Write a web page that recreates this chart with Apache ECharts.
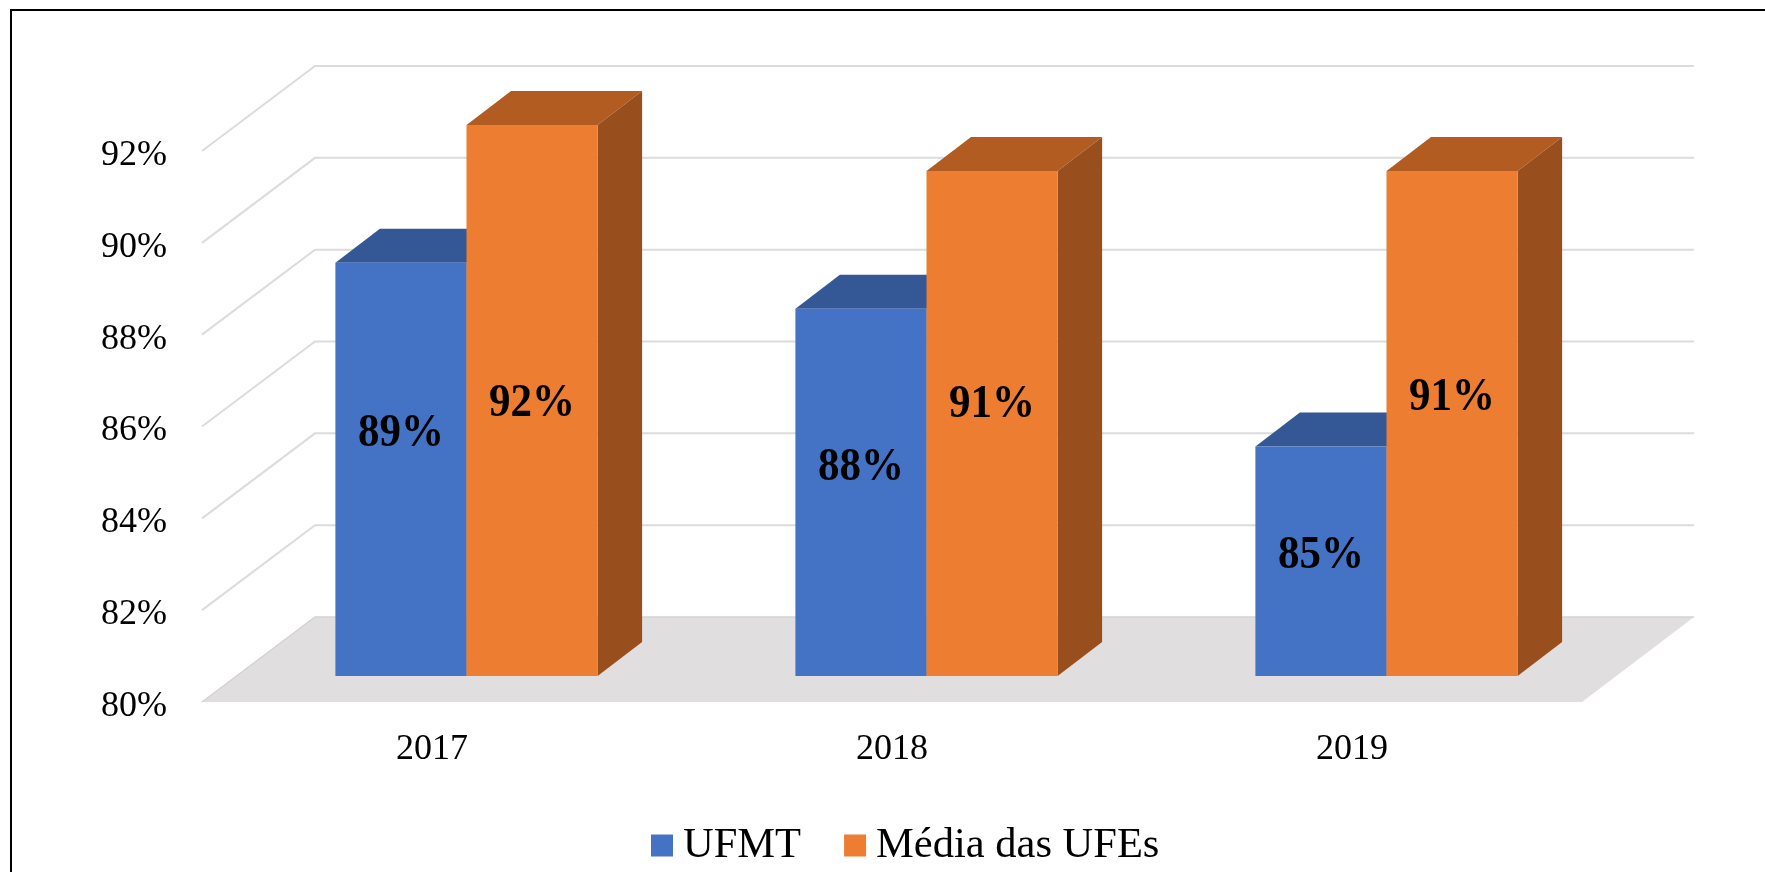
<!DOCTYPE html>
<html>
<head>
<meta charset="utf-8">
<style>html,body{margin:0;padding:0;background:#fff}#c{width:1765px;height:872px}</style>
<script src="https://cdn.jsdelivr.net/npm/echarts@6/dist/echarts.min.js"></script>
</head>
<body>
<div id="c"></div>
<script>
const categories = ['2017', '2018', '2019'];
const ufmt = [89, 88, 85];
const mediaUfes = [92, 91, 91];
const yTicks = [80, 82, 84, 86, 88, 90, 92];

// Presentation only: 3D projection and hand-placed data label offsets
const FLOOR_DX = 113, FLOOR_DY = 85, SHIFT_DX = 34.5, SHIFT_DY = 26, BAR_DX = 44.5, BAR_DY = 34;
const BAR_FRACTION = 0.285;
const FONT = '"Liberation Serif","Times New Roman",serif';
const ufmtLabelShift = [-35, -24, -5];
const mediaLabelShift = [4, -18, -25];

function wallItem(params, api) {
  const cs = params.coordSys;
  const v = api.value(0);
  const y = api.coord([0, v])[1];
  const x0 = cs.x, x1 = cs.x + cs.width;
  if (v === yTicks[0]) {
    return {
      type: 'group',
      children: [
        { type: 'polygon', shape: { points: [[x0, y], [x0 + FLOOR_DX, y - FLOOR_DY], [x1 + FLOOR_DX - 1, y - FLOOR_DY], [x1, y]] },
          style: { fill: '#e0dedf' } },
        { type: 'polyline', shape: { points: [[x0, y], [x0 + FLOOR_DX, y - FLOOR_DY], [x1 + FLOOR_DX - 1, y - FLOOR_DY]] },
          style: { fill: 'none', stroke: '#d4d3d3', lineWidth: 1.5 } }
      ]
    };
  }
  return {
    type: 'polyline',
    shape: { points: [[x0, y], [x0 + FLOOR_DX, y - FLOOR_DY], [x1 + FLOOR_DX - 1, y - FLOOR_DY]] },
    style: { fill: 'none', stroke: '#dcdcdc', lineWidth: 2 }
  };
}

function barItem(colors, side, shifts) {
  return function (params, api) {
    const i = api.value(0), v = api.value(1);
    const top = api.coord([i, v]);
    const base = api.coord([i, yTicks[0]]);
    const w = api.size([1, 0])[0] * BAR_FRACTION;
    const cx = top[0] + SHIFT_DX;
    const l = side < 0 ? cx - w : cx;
    const r = l + w;
    const t = top[1] - SHIFT_DY, b = base[1] - SHIFT_DY;
    return {
      type: 'group',
      children: [
        { type: 'polygon', shape: { points: [[l, t], [l + BAR_DX, t - BAR_DY], [r + BAR_DX, t - BAR_DY], [r, t]] }, style: { fill: colors.top } },
        { type: 'polygon', shape: { points: [[r, t], [r + BAR_DX, t - BAR_DY], [r + BAR_DX, b - BAR_DY], [r, b]] }, style: { fill: colors.side } },
        { type: 'rect', shape: { x: l, y: t, width: w, height: b - t }, style: { fill: colors.front } },
        { type: 'text', x: (l + r) / 2, y: (t + b) / 2 + shifts[i], scaleY: 1.08,
          style: { text: v + '%', fill: '#000', font: 'bold 43px ' + FONT, align: 'center', verticalAlign: 'middle' } }
      ]
    };
  };
}

const blue = { front: '#4472c4', top: '#345796', side: '#2f5190' };
const orange = { front: '#ed7d31', top: '#b35c22', side: '#984f1d' };

const chart = echarts.init(document.getElementById('c'), null, { renderer: 'canvas' });
chart.setOption({
  animation: false,
  backgroundColor: '#ffffff',
  grid: { left: 202, right: 183, top: 151, bottom: 170, containLabel: false },
  legend: {
    data: ['UFMT', 'Média das UFEs'],
    left: 651, top: 824,
    icon: 'rect',
    itemWidth: 22, itemHeight: 22, itemGap: 43,
    padding: 0,
    textStyle: { fontFamily: FONT, fontSize: 42.5, color: '#000', padding: [0, 0, 0, 5] },
    selectedMode: false
  },
  tooltip: { show: false },
  xAxis: {
    type: 'category',
    data: categories,
    axisLine: { show: false }, axisTick: { show: false },
    axisLabel: { fontFamily: FONT, fontSize: 36, color: '#000', margin: 30 }
  },
  yAxis: {
    type: 'value', min: 80, max: 92, interval: 2,
    axisLine: { show: false }, axisTick: { show: false }, splitLine: { show: false },
    axisLabel: { fontFamily: FONT, fontSize: 36, color: '#000', margin: 35, verticalAlign: 'top', lineHeight: 9, formatter: '{value}%' }
  },
  graphic: [
    { type: 'line', shape: { x1: 11, y1: 10, x2: 11, y2: 872 }, style: { stroke: '#000', lineWidth: 2 } },
    { type: 'line', shape: { x1: 10, y1: 10, x2: 1765, y2: 10 }, style: { stroke: '#000', lineWidth: 2 } }
  ],
  series: [
    { name: 'wall', type: 'custom', renderItem: wallItem, data: yTicks.map(t => [t]), encode: { y: 0 }, silent: true, clip: false },
    { name: 'UFMT', type: 'custom', renderItem: barItem(blue, -1, ufmtLabelShift),
      data: ufmt.map((v, i) => [i, v]), encode: { x: 0, y: 1 }, itemStyle: { color: blue.front }, clip: false },
    { name: 'Média das UFEs', type: 'custom', renderItem: barItem(orange, 1, mediaLabelShift),
      data: mediaUfes.map((v, i) => [i, v]), encode: { x: 0, y: 1 }, itemStyle: { color: orange.front }, clip: false }
  ]
});
</script>
</body>
</html>
